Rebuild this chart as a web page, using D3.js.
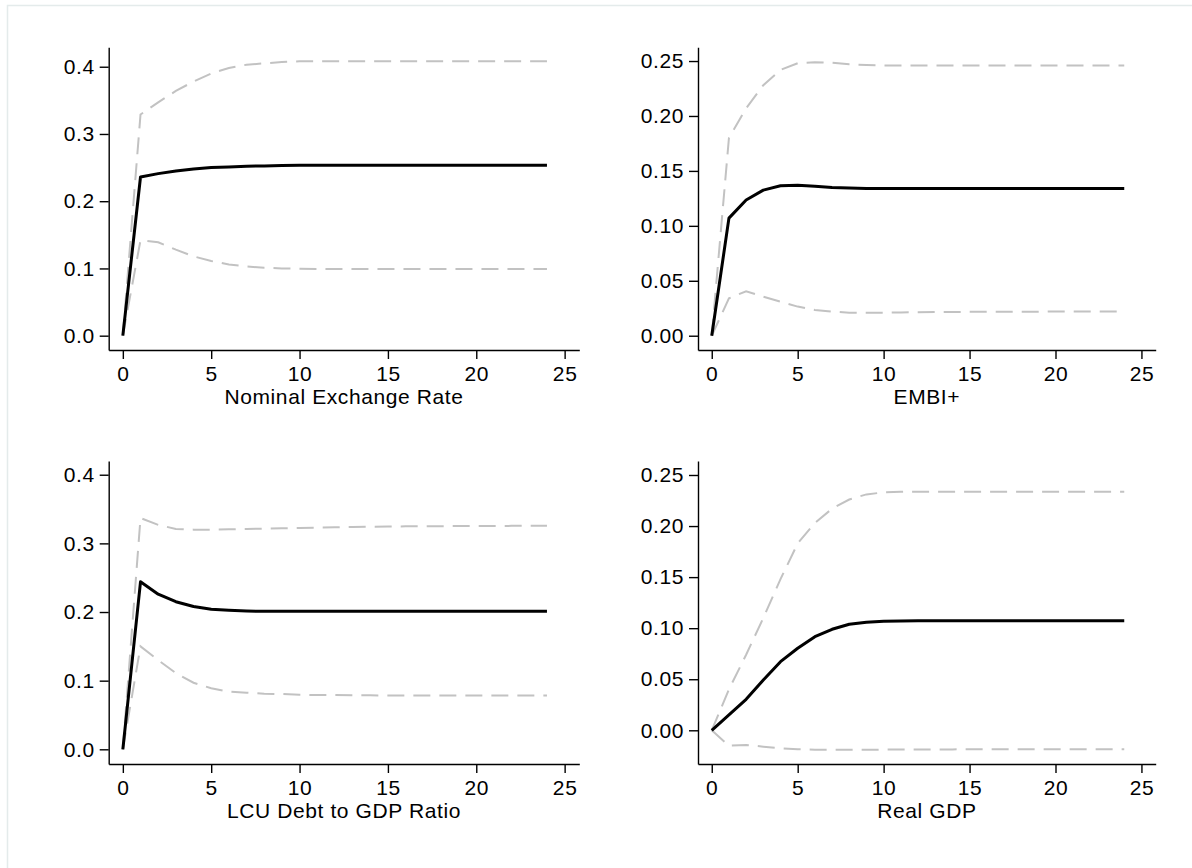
<!DOCTYPE html>
<html>
<head>
<meta charset="utf-8">
<script src="https://cdn.jsdelivr.net/npm/d3@7"></script>
<style>
  html, body { margin: 0; padding: 0; background: #ffffff; }
  svg { display: block; }
  .axis path, .axis line { stroke: #000000; stroke-width: 1.4; }
  .axis text { font-family: "Liberation Sans", Arial, sans-serif; font-size: 21px; fill: #000000; letter-spacing: 0.6px; }
  .panel-title { font-family: "Liberation Sans", Arial, sans-serif; font-size: 21px; fill: #000000; letter-spacing: 0.6px; }
</style>
</head>
<body>
<script>
const steps = d3.range(0, 25);

// Nominal Exchange Rate
const nerIrf   = [0, 0.236, 0.241, 0.245, 0.248, 0.250, 0.251, 0.252, 0.2525, 0.253, 0.2535, 0.2535, 0.2535, 0.2535, 0.2535, 0.2535, 0.2535, 0.2535, 0.2535, 0.2535, 0.2535, 0.2535, 0.2535, 0.2535, 0.2535];
const nerUpper = [0, 0.329, 0.347, 0.364, 0.378, 0.390, 0.398, 0.403, 0.405, 0.407, 0.408, 0.408, 0.408, 0.408, 0.408, 0.408, 0.408, 0.408, 0.408, 0.408, 0.408, 0.408, 0.408, 0.408, 0.408];
const nerLower = [0, 0.142, 0.139, 0.128, 0.118, 0.111, 0.106, 0.103, 0.101, 0.100, 0.0995, 0.0993, 0.0992, 0.0991, 0.099, 0.099, 0.099, 0.099, 0.099, 0.099, 0.099, 0.099, 0.099, 0.099, 0.099];

// EMBI+
const embiIrf   = [0, 0.107, 0.1235, 0.1325, 0.1365, 0.137, 0.136, 0.135, 0.1345, 0.134, 0.134, 0.134, 0.134, 0.134, 0.134, 0.134, 0.134, 0.134, 0.134, 0.134, 0.134, 0.134, 0.134, 0.134, 0.134];
const embiUpper = [0, 0.180, 0.207, 0.228, 0.242, 0.248, 0.249, 0.2485, 0.247, 0.2465, 0.246, 0.246, 0.246, 0.246, 0.246, 0.246, 0.246, 0.246, 0.246, 0.246, 0.246, 0.246, 0.246, 0.246, 0.246];
const embiLower = [0, 0.034, 0.0405, 0.0355, 0.031, 0.0265, 0.0235, 0.022, 0.021, 0.021, 0.021, 0.0212, 0.0214, 0.0215, 0.0216, 0.0217, 0.0218, 0.0218, 0.0219, 0.0219, 0.022, 0.022, 0.022, 0.022, 0.022];

// LCU Debt to GDP Ratio
const debtIrf   = [0, 0.244, 0.226, 0.215, 0.208, 0.204, 0.2025, 0.2015, 0.201, 0.201, 0.201, 0.201, 0.201, 0.201, 0.201, 0.201, 0.201, 0.201, 0.201, 0.201, 0.201, 0.201, 0.201, 0.201, 0.201];
const debtUpper = [0, 0.337, 0.327, 0.321, 0.320, 0.320, 0.3205, 0.321, 0.3215, 0.322, 0.3225, 0.323, 0.3235, 0.324, 0.3243, 0.3246, 0.3248, 0.325, 0.325, 0.3252, 0.3253, 0.3254, 0.3255, 0.3255, 0.3255];
const debtLower = [0, 0.150, 0.130, 0.111, 0.097, 0.089, 0.084, 0.0825, 0.081, 0.0805, 0.0795, 0.079, 0.079, 0.0788, 0.0786, 0.0785, 0.0785, 0.0784, 0.0784, 0.0784, 0.0784, 0.0784, 0.0784, 0.0784, 0.0784];

// Real GDP
const gdpIrf   = [0, 0.015, 0.0303, 0.0493, 0.0672, 0.0803, 0.0917, 0.0989, 0.1038, 0.1057, 0.1067, 0.107, 0.1072, 0.1072, 0.1072, 0.1072, 0.1072, 0.1072, 0.1072, 0.1072, 0.1072, 0.1072, 0.1072, 0.1072, 0.1072];
const gdpUpper = [0, 0.040, 0.074, 0.110, 0.148, 0.183, 0.203, 0.217, 0.226, 0.231, 0.233, 0.2335, 0.2337, 0.2337, 0.2337, 0.2337, 0.2337, 0.2337, 0.2337, 0.2337, 0.2337, 0.2337, 0.2337, 0.2337, 0.2337];
const gdpLower = [0, -0.0151, -0.0144, -0.016, -0.0175, -0.0186, -0.019, -0.019, -0.019, -0.019, -0.0189, -0.0188, -0.0188, -0.0187, -0.0187, -0.0186, -0.0186, -0.0186, -0.0186, -0.0186, -0.0186, -0.0186, -0.0186, -0.0186, -0.0186];

const xTicks = [0, 5, 10, 15, 20, 25];
const yTicksWide = [0, 0.1, 0.2, 0.3, 0.4];
const yTicksNarrow = [0, 0.05, 0.10, 0.15, 0.20, 0.25];

const panels = [
    { title: 'Nominal Exchange Rate', irf: nerIrf, upper: nerUpper, lower: nerLower,
      yDomain: [-0.0213, 0.4289], yTicks: yTicksWide, fmt: '.1f',
      left: 108.7, right: 579.3, top: 47.3, bottom: 350 },
    { title: 'EMBI+', irf: embiIrf, upper: embiUpper, lower: embiLower,
      yDomain: [-0.013, 0.2625], yTicks: yTicksNarrow, fmt: '.2f',
      left: 698, right: 1155.7, top: 47.3, bottom: 350 },
    { title: 'LCU Debt to GDP Ratio', irf: debtIrf, upper: debtUpper, lower: debtLower,
      yDomain: [-0.0214, 0.420], yTicks: yTicksWide, fmt: '.1f',
      left: 108.7, right: 579.3, top: 461, bottom: 764 },
    { title: 'Real GDP', irf: gdpIrf, upper: gdpUpper, lower: gdpLower,
      yDomain: [-0.033, 0.2637], yTicks: yTicksNarrow, fmt: '.2f',
      left: 698, right: 1155.7, top: 461, bottom: 764 }
];

const width = 1192;
const height = 868;

const svg = d3.select('body').append('svg')
    .attr('width', width)
    .attr('height', height);

// faint page frame
svg.append('rect')
    .attr('x', 7.5).attr('y', 5.5)
    .attr('width', width).attr('height', height)
    .attr('fill', 'none')
    .attr('stroke', '#e4ebeb')
    .attr('stroke-width', 1.5);

panels.forEach((p) => {
    const x = d3.scaleLinear().domain([-0.8, 25.83]).range([p.left, p.right]);
    const y = d3.scaleLinear().domain(p.yDomain).range([p.bottom, p.top]);

    const g = svg.append('g');

    g.append('g')
        .attr('class', 'axis')
        .attr('transform', `translate(0,${p.bottom})`)
        .call(d3.axisBottom(x).tickValues(xTicks).tickSize(9).tickSizeOuter(0).tickPadding(7));

    g.append('g')
        .attr('class', 'axis')
        .attr('transform', `translate(${p.left},0)`)
        .call(d3.axisLeft(y).tickValues(p.yTicks).tickFormat(d3.format(p.fmt)).tickSize(9).tickSizeOuter(0).tickPadding(5));

    const line = (vals) => d3.line()
        .x((d, i) => x(steps[i]))
        .y((d) => y(d))(vals);

    [p.upper, p.lower].forEach((band) => {
        g.append('path')
            .attr('d', line(band))
            .attr('fill', 'none')
            .attr('stroke', '#c2c2c2')
            .attr('stroke-width', 2)
            .attr('stroke-dasharray', '17 9');
    });

    g.append('path')
        .attr('d', line(p.irf))
        .attr('fill', 'none')
        .attr('stroke', '#000000')
        .attr('stroke-width', 3)
        .attr('stroke-linejoin', 'round');

    g.append('text')
        .attr('class', 'panel-title')
        .attr('x', (p.left + p.right) / 2)
        .attr('y', p.bottom + 54)
        .attr('text-anchor', 'middle')
        .text(p.title);
});
</script>
</body>
</html>
